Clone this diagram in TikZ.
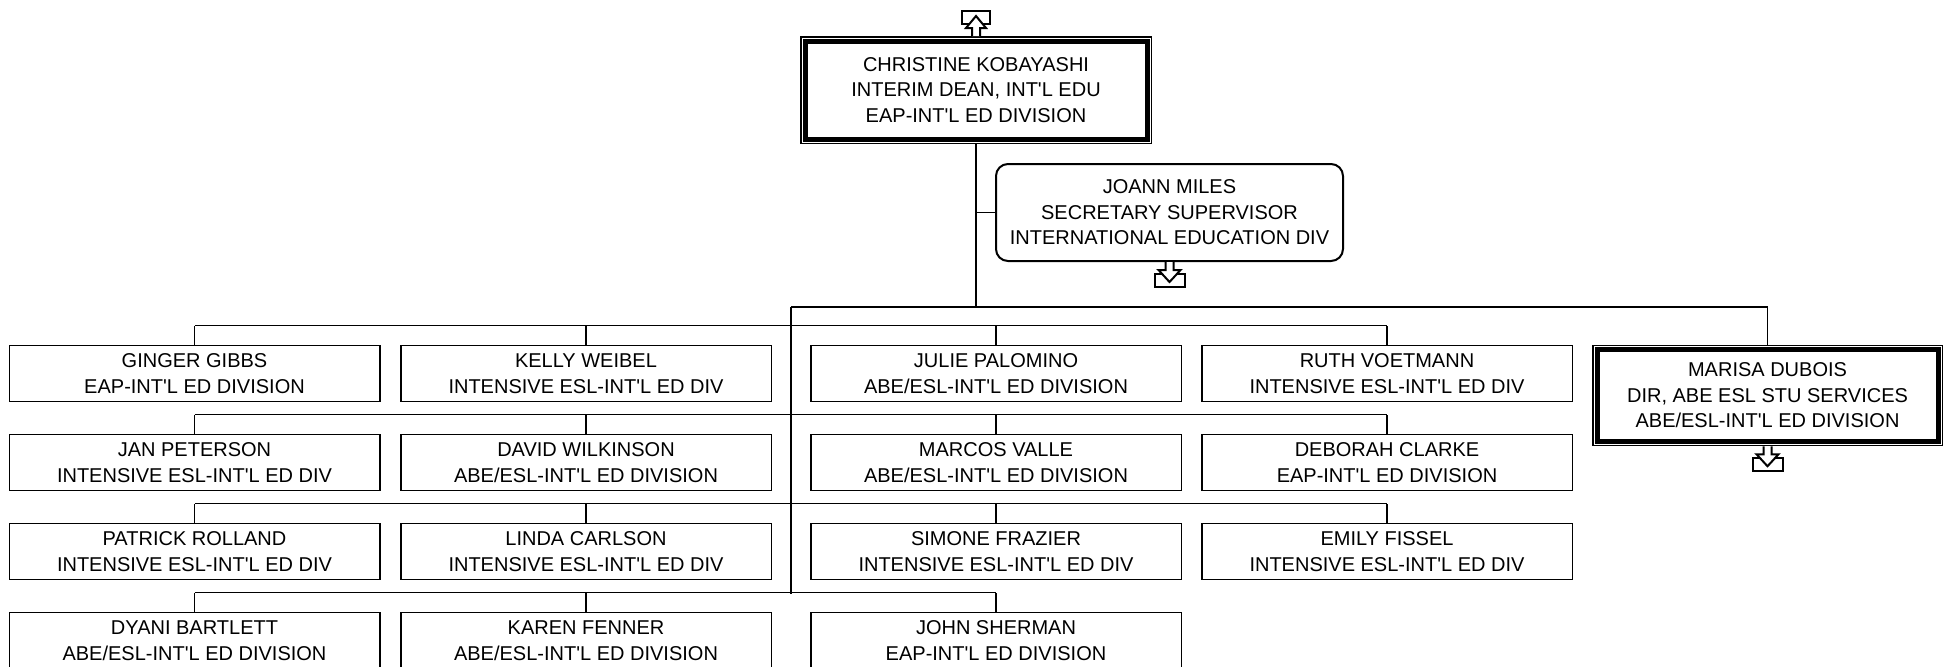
\documentclass[tikz,border=0pt]{standalone}
\usepackage{fontspec}
\setmainfont{Liberation Sans}
\newcommand{\ap}{\textquotesingle}
\begin{document}
\begin{tikzpicture}[
	x=0.5pt, y=-0.5pt,
	font=\fontsize{10pt}{12.75pt}\selectfont,
	line width=0.7pt,
	person/.style={ draw, line width=0.75pt, align=center, inner sep=0pt, minimum width=185.25pt, minimum height=28pt },
	headbox/.style={ draw, line width=0.75pt, align=center, inner sep=0pt, minimum width=175.25pt },
	bandframe/.style={ line width=2.5pt },
	assistbox/.style={ draw, line width=1pt, rounded corners=6pt, align=center, inner sep=0pt, minimum width=173.5pt, minimum height=48.5pt },
	downicon/.pic={ \draw[line width=1pt] (-15,12) rectangle (15,25);
		\draw[line width=1pt, fill=white] (-4,0) -- (-4,8) -- (-11,8) -- (0,20) -- (11,8) -- (4,8) -- (4,0); },
	upicon/.pic={ \draw[line width=1pt] (-14,-12) rectangle (14,-25);
		\draw[line width=1pt, fill=white] (-4,0) -- (-4,-8) -- (-10,-8) -- (0,-20) -- (10,-8) -- (4,-8) -- (4,0); }
]
\useasboundingbox (0,0) rectangle (1949,666);

\node[headbox, minimum height=53.25pt] at (976,90) (kobayashi) {CHRISTINE KOBAYASHI\\INTERIM DEAN, INT\ap L EDU\\EAP-INT\ap L ED DIVISION};
\node[assistbox] at (1169.5,212.5) (miles) {JOANN MILES\\SECRETARY SUPERVISOR\\INTERNATIONAL EDUCATION DIV};
\node[headbox, minimum height=50pt, minimum width=174.75pt] at (1767.5,395.5) (dubois) {MARISA DUBOIS\\DIR, ABE ESL STU SERVICES\\ABE/ESL-INT\ap L ED DIVISION};
\foreach \h in {kobayashi,dubois} \draw[bandframe] ([shift={(2.5pt,-2.5pt)}]\h.north west) rectangle ([shift={(-2.5pt,2.5pt)}]\h.south east);

\node[person] at (194.5,373.5) (gibbs) {GINGER GIBBS\\EAP-INT\ap L ED DIVISION};
\node[person] at (586,373.5) (weibel) {KELLY WEIBEL\\INTENSIVE ESL-INT\ap L ED DIV};
\node[person] at (996,373.5) (palomino) {JULIE PALOMINO\\ABE/ESL-INT\ap L ED DIVISION};
\node[person] at (1387,373.5) (voetmann) {RUTH VOETMANN\\INTENSIVE ESL-INT\ap L ED DIV};

\node[person] at (194.5,462.5) (peterson) {JAN PETERSON\\INTENSIVE ESL-INT\ap L ED DIV};
\node[person] at (586,462.5) (wilkinson) {DAVID WILKINSON\\ABE/ESL-INT\ap L ED DIVISION};
\node[person] at (996,462.5) (valle) {MARCOS VALLE\\ABE/ESL-INT\ap L ED DIVISION};
\node[person] at (1387,462.5) (clarke) {DEBORAH CLARKE\\EAP-INT\ap L ED DIVISION};

\node[person] at (194.5,551.5) (rolland) {PATRICK ROLLAND\\INTENSIVE ESL-INT\ap L ED DIV};
\node[person] at (586,551.5) (carlson) {LINDA CARLSON\\INTENSIVE ESL-INT\ap L ED DIV};
\node[person] at (996,551.5) (frazier) {SIMONE FRAZIER\\INTENSIVE ESL-INT\ap L ED DIV};
\node[person] at (1387,551.5) (fissel) {EMILY FISSEL\\INTENSIVE ESL-INT\ap L ED DIV};

\node[person] at (194.5,640.5) (bartlett) {DYANI BARTLETT\\ABE/ESL-INT\ap L ED DIVISION};
\node[person] at (586,640.5) (fenner) {KAREN FENNER\\ABE/ESL-INT\ap L ED DIVISION};
\node[person] at (996,640.5) (sherman) {JOHN SHERMAN\\EAP-INT\ap L ED DIVISION};

\coordinate (top) at (791,307);
\coordinate (bot) at (791,593.5);
\draw (kobayashi.south) -- (kobayashi.south |- top);
\draw (kobayashi.south |- miles.west) -- (miles.west);
\draw (top) -- (bot);
\draw (top) -| (dubois.north);
\foreach \n in {gibbs,weibel,palomino,voetmann,peterson,wilkinson,valle,clarke,rolland,carlson,frazier,fissel,bartlett,fenner,sherman} \draw (\n.north) -- ++(0,-19);
\foreach \a/\b in {gibbs/voetmann,peterson/clarke,rolland/fissel,bartlett/sherman} \draw ([yshift=9.5pt]\a.north) -- ([yshift=9.5pt]\b.north);

\pic at (kobayashi.north) {upicon};
\pic at (miles.south) {downicon};
\pic at (dubois.south) {downicon};

\end{tikzpicture}
\end{document}
